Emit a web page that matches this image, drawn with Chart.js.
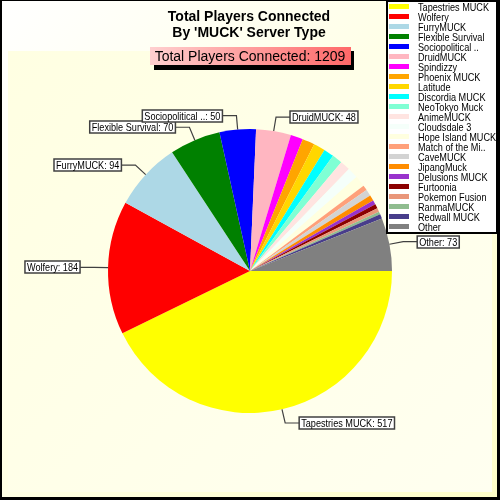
<!DOCTYPE html>
<html lang="en">
<head>
<meta charset="UTF-8" />
<title>Total Players Connected By 'MUCK' Server Type</title>
<script src="https://cdn.jsdelivr.net/npm/chart.js"></script>
<style>
  body { margin: 0; background: #fff; }
  #wrap { width: 500px; height: 500px; }
  #muckChart { display: block; }
</style>
</head>
<body>
<div id="wrap"><canvas id="muckChart" width="500" height="500"></canvas></div>
<script>
  // data
  const categories = [
    "Tapestries MUCK", "Wolfery", "FurryMUCK", "Flexible Survival", "Sociopolitical ..",
    "DruidMUCK", "Spindizzy", "Phoenix MUCK", "Latitude", "Discordia MUCK",
    "NeoTokyo Muck", "AnimeMUCK", "Cloudsdale 3", "Hope Island MUCK", "Match of the Mi..",
    "CaveMUCK", "JipangMuck", "Delusions MUCK", "Furtoonia", "Pokemon Fusion",
    "RanmaMUCK", "Redwall MUCK", "Other"
  ];
  const players = [517, 184, 94, 70, 50, 48, 17, 17, 16, 14, 14, 14, 15, 15, 7, 9, 8, 6, 6, 5, 4, 6, 73];
  const sliceColors = [
    "#ffff00", "#ff0000", "#add8e6", "#008000", "#0000ff",
    "#ffb6c1", "#ff00ff", "#ffa500", "#ffd700", "#00ffff",
    "#7fffd4", "#ffe4e1", "#f5fffa", "#ffffe0", "#ffa07a",
    "#d3d3d3", "#ff8c00", "#9932cc", "#8b0000", "#e9967a",
    "#8fbc8f", "#483d8b", "#808080"
  ];
  const titleLines = ["Total Players Connected", "By 'MUCK' Server Type"];
  const totalText = "Total Players Connected";
  const labelMin = 40;   // slices smaller than this get no callout

  const total = players.reduce((a, b) => a + b, 0);
  const smallFont = "11px 'Liberation Sans', Arial, sans-serif";
  const squeeze = 0.83;  // original font is narrower than Liberation

  function narrowText(ctx, text, x, y) {
    const w = ctx.measureText(text).width * squeeze;
    ctx.fillText(text, x, y, w);
    return w;
  }

  const decor = {
    id: "decor",
    beforeDraw(chart) {
      const ctx = chart.ctx, W = chart.width, H = chart.height;
      ctx.save();
      let g = ctx.createLinearGradient(0, 0, W, H);
      g.addColorStop(0, "#ffffff");
      g.addColorStop(1, "#ffffc8");
      ctx.fillStyle = g;
      ctx.fillRect(0, 0, W, H);
      g = ctx.createLinearGradient(8, 51, 492, 492);
      g.addColorStop(0, "#ffffe2");
      g.addColorStop(1, "#fffff0");
      ctx.fillStyle = g;
      ctx.fillRect(8, 51, 484, 441);
      ctx.fillStyle = "#000";
      ctx.fillRect(0, 0, W, 1);
      ctx.fillRect(0, 0, 2, H);
      ctx.fillRect(W - 3, 0, 3, H);
      ctx.fillRect(0, H - 3, W, 3);
      ctx.restore();
    },
    afterDatasetsDraw(chart) {
      const ctx = chart.ctx;
      const meta = chart.getDatasetMeta(0);
      ctx.save();
      ctx.font = smallFont;
      meta.data.forEach((arc, i) => {
        if (players[i] < labelMin) return;
        const p = arc.getProps(["x", "y", "startAngle", "endAngle", "outerRadius"], true);
        const mid = (p.startAngle + p.endAngle) / 2;
        const c = Math.cos(mid), s = Math.sin(mid);
        const ex = p.x + p.outerRadius * c, ey = p.y + p.outerRadius * s;
        const kx = p.x + (p.outerRadius + 14) * c, ky = p.y + (p.outerRadius + 14) * s;
        const side = c >= 0 ? 1 : -1;
        const endX = kx + side * 14;
        ctx.strokeStyle = "#404040";
        ctx.lineWidth = 1.2;
        ctx.beginPath();
        ctx.moveTo(ex, ey);
        ctx.lineTo(kx, ky);
        ctx.lineTo(endX, ky);
        ctx.stroke();

        const text = categories[i] + ": " + players[i];
        const tw = ctx.measureText(text).width * squeeze;
        const bw = tw + 4, bh = 12;
        const bx = side > 0 ? endX : endX - bw;
        const by = Math.round(ky - bh / 2);
        ctx.fillStyle = "#ffffff";
        ctx.fillRect(bx, by, bw, bh);
        ctx.lineWidth = 1.5;
        ctx.strokeRect(bx, by, bw, bh);
        ctx.fillStyle = "#000";
        ctx.textBaseline = "alphabetic";
        narrowText(ctx, text, bx + 2, by + 10);
      });
      ctx.restore();
    },
    afterDraw(chart) {
      const ctx = chart.ctx;
      ctx.save();
      // title
      ctx.fillStyle = "#000";
      ctx.textAlign = "center";
      ctx.font = "bold 14px 'Liberation Sans', Arial, sans-serif";
      ctx.fillText(titleLines[0], 249, 21);
      ctx.fillText(titleLines[1], 249, 37);

      // total box with shadow
      ctx.fillStyle = "#000";
      ctx.fillRect(154, 51, 200, 19);
      const g = ctx.createLinearGradient(150, 47, 351, 65);
      g.addColorStop(0, "#ffd0d0");
      g.addColorStop(1, "#ff6868");
      ctx.fillStyle = g;
      ctx.fillRect(150, 47, 201, 18);
      ctx.fillStyle = "#000";
      ctx.font = "14px 'Liberation Sans', Arial, sans-serif";
      ctx.fillText(totalText + ": " + total, 250, 61);

      // legend
      ctx.textAlign = "left";
      ctx.fillStyle = "#ffffff";
      ctx.fillRect(387, 1, 110, 232);
      ctx.strokeStyle = "#000";
      ctx.lineWidth = 2;
      ctx.strokeRect(387, 1, 110, 232);
      ctx.font = smallFont;
      categories.forEach((name, i) => {
        ctx.fillStyle = sliceColors[i];
        ctx.fillRect(389, 4 + 10 * i, 20, 5);
        ctx.fillStyle = "#000";
        narrowText(ctx, name, 418, 11 + 10 * i);
      });
      ctx.restore();
    }
  };

  new Chart(document.getElementById("muckChart"), {
    type: "pie",
    data: {
      labels: categories,
      datasets: [{
        data: players,
        backgroundColor: sliceColors,
        borderWidth: 0,
        hoverBorderWidth: 0
      }]
    },
    options: {
      responsive: false,
      animation: false,
      rotation: 90,
      layout: { padding: { left: 108, right: 108, top: 129, bottom: 87 } },
      plugins: {
        legend: { display: false },
        tooltip: { enabled: false }
      }
    },
    plugins: [decor]
  });
</script>
</body>
</html>
